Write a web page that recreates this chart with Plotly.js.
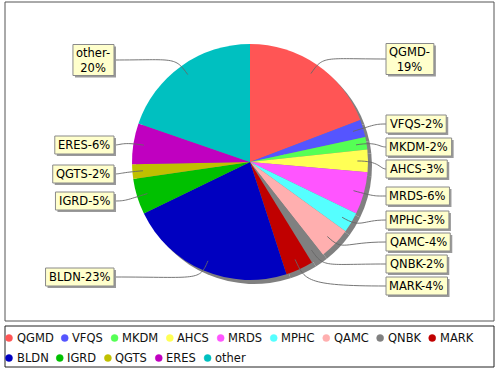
<!DOCTYPE html>
<html><head><meta charset="utf-8">
<script src="https://cdn.plot.ly/plotly-3.0.1.min.js"></script>
<style>body{margin:0;padding:0;background:#fff}</style>
</head><body><div id="chart" style="width:500px;height:370px"></div>
<script>
const categories = ['QGMD','VFQS','MKDM','AHCS','MRDS','MPHC','QAMC','QNBK','MARK','BLDN','IGRD','QGTS','ERES','other'];
const shares = [19.2,2.4,1.7,3.1,5.8,2.8,4.4,1.8,3.8,22.8,4.9,2.0,5.6,19.7];
const sliceColors = ['#FF5555','#5555FF','#55FF55','#FFFF55','#FF55FF','#55FFFF','#FFAFAF','#808080','#C00000','#0000C0','#00C000','#C0C000','#C000C0','#00C0C0'];
// label box vertical centres (pixels) — layout only
const labelY = [59,124,147,169,196,220,242,264,286,277,201,174,145,60];
const wrapLabels = ['QGMD','other'];

const W=500,H=370, cx=250, cy=162, R=118;
const FONT='DejaVu Sans', FS=11.5;
function px(x){return x/W;}
function py(y){return 1-y/H;}

const ctx=document.createElement('canvas').getContext('2d');
ctx.font=FS+'px "'+FONT+'"';

const total = shares.reduce((a,b)=>a+b,0);
const shapes=[], annotations=[];

// frames
shapes.push({type:'rect',xref:'paper',yref:'paper',x0:px(5),x1:px(494),y0:py(2),y1:py(321),line:{color:'#555',width:1},layer:'below'});
shapes.push({type:'rect',xref:'paper',yref:'paper',x0:px(5),x1:px(494),y0:py(326),y1:py(367),line:{color:'#222',width:1},layer:'below'});

// labels + leader lines
const boxShapes=[];
let cum=0;
categories.forEach((c,i)=>{
  const frac=shares[i]/total;
  const mid=(cum+frac/2)*2*Math.PI; cum+=frac;
  const s=Math.sin(mid), k=-Math.cos(mid);
  const lx=cx+s*R*0.91, ly=cy+k*R*0.91;
  const ex=cx+s*R*1.1, ey=cy+k*R*1.1;
  const right = mid<Math.PI;
  const tx = right?386:114, ty=labelY[i];
  const pct=Math.round(frac*100);
  const lines = wrapLabels.includes(c) ? [c+'-', pct+'%'] : [c+'-'+pct+'%'];
  const tw = Math.max(...lines.map(l=>ctx.measureText(l).width));
  const bw = tw+7, bh = lines.length===1?18:31;
  const x0 = right?tx:tx-bw, x1 = right?tx+bw:tx;
  const y0 = ty-bh/2, y1 = ty+bh/2;
  shapes.push({type:'path',xref:'paper',yref:'paper',
    path:`M ${px(tx)},${py(ty)} C ${px(ex)},${py(ty)} ${px(ex)},${py(ey)} ${px(lx)},${py(ly)}`,
    line:{color:'#666',width:0.9}});
  boxShapes.push({type:'rect',xref:'paper',yref:'paper',x0:px(x0+2),x1:px(x1+2),y0:py(y0+2),y1:py(y1+2),
    fillcolor:'#9a9a9a',line:{width:0}});
  boxShapes.push({type:'rect',xref:'paper',yref:'paper',x0:px(x0),x1:px(x1),y0:py(y0),y1:py(y1),
    fillcolor:'#FFFFCC',line:{color:'#8a8a8a',width:1}});
  annotations.push({xref:'paper',yref:'paper',x:px((x0+x1)/2),y:py(ty),xanchor:'center',yanchor:'middle',
    text:lines.join('<br>'),showarrow:false,borderwidth:0,borderpad:0,align:'center',
    font:{family:FONT,size:FS,color:'#000'}});
});
shapes.push(...boxShapes);

// legend (manual flow layout)
const rowY=[338,358];
let lxp=9,row=0;
categories.forEach((c,i)=>{
  const w=ctx.measureText(c).width;
  if(lxp+8+w>490){row++;lxp=9;}
  const y=rowY[row];
  shapes.push({type:'circle',xref:'paper',yref:'paper',x0:px(lxp-3.5),x1:px(lxp+3.5),y0:py(y+3.5),y1:py(y-3.5),
    fillcolor:sliceColors[i],line:{color:sliceColors[i],width:0.5}});
  annotations.push({xref:'paper',yref:'paper',x:px(lxp+7.5),y:py(y),xanchor:'left',yanchor:'middle',text:c,
    showarrow:false,borderpad:0,borderwidth:0,font:{family:FONT,size:FS,color:'#111'}});
  lxp+=8+w+11;
});

const dom={x:[px(cx-R),px(cx+R)],y:[py(cy+R),py(cy-R)]};
const domShadow={x:[px(cx-R+4),px(cx+R+4)],y:[py(cy+R+4),py(cy-R+4)]};
const traces=[
  {type:'pie',labels:categories,values:shares,sort:false,direction:'clockwise',rotation:0,
   domain:domShadow,marker:{colors:categories.map(()=> '#808080'),line:{width:0}},textinfo:'none',hoverinfo:'skip',showlegend:false},
  {type:'pie',labels:categories,values:shares,sort:false,direction:'clockwise',rotation:0,
   domain:dom,marker:{colors:sliceColors,line:{width:0}},textinfo:'none',showlegend:false}
];
Plotly.newPlot('chart',traces,{width:W,height:H,margin:{l:0,r:0,t:0,b:0},paper_bgcolor:'#fff',
  showlegend:false,shapes:shapes,annotations:annotations,font:{family:FONT}},{displayModeBar:false,staticPlot:true});
</script></body></html>
